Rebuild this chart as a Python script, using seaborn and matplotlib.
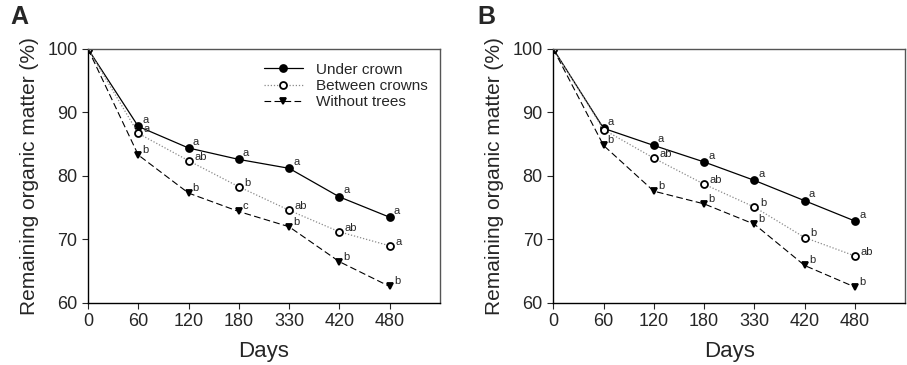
import pandas as pd
import seaborn as sns
import matplotlib.pyplot as plt
from matplotlib.lines import Line2D

# Datos
dias = ["0", "60", "120", "180", "330", "420", "480"]
series = ["Under crown", "Between crowns", "Without trees"]

a_under = [100, 87.8, 84.4, 82.6, 81.2, 76.7, 73.5]
a_between = [100, 86.7, 82.4, 78.3, 74.6, 71.2, 69.0]
a_without = [100, 83.3, 77.3, 74.4, 72.0, 66.5, 62.6]

b_under = [100, 87.5, 84.8, 82.2, 79.3, 76.1, 72.9]
b_between = [100, 87.3, 82.8, 78.7, 75.1, 70.3, 67.4]
b_without = [100, 84.8, 77.6, 75.6, 72.4, 65.9, 62.5]

a_letras_under = ["", "a", "a", "a", "a", "a", "a"]
a_letras_between = ["", "a", "ab", "b", "ab", "ab", "a"]
a_letras_without = ["", "b", "b", "c", "b", "b", "b"]

b_letras_under = ["", "a", "a", "a", "a", "a", "a"]
b_letras_between = ["", "", "ab", "ab", "b", "b", "ab"]
b_letras_without = ["", "b", "b", "b", "b", "b", "b"]

estilos = {
    "Under crown": dict(color="black", ls="-", marker="o", mfc="black", lw=0.9),
    "Between crowns": dict(color="#8a8a8a", ls=(0, (1, 1.5)), marker="o", mfc="white", lw=0.9),
    "Without trees": dict(color="black", ls=(0, (6, 3)), marker="v", mfc="black", lw=0.8),
}
# desplazamiento de las letras (puntos) y alineación vertical
offsets = {
    "Under crown": ((3, 1), "bottom"),
    "Between crowns": ((4, 3), "center"),
    "Without trees": ((3, 0), "bottom"),
}

sns.set_style("ticks")
plt.rcParams["font.family"] = ["Liberation Sans", "DejaVu Sans"]

fig = plt.figure(figsize=(9.07, 3.65), dpi=100)
ax_a = fig.add_axes([0.097, 0.170, 0.388, 0.696])
ax_b = fig.add_axes([0.610, 0.170, 0.388, 0.696])

paneles = [
    (ax_a, "A", 0.011, [a_under, a_between, a_without], [a_letras_under, a_letras_between, a_letras_without]),
    (ax_b, "B", 0.526, [b_under, b_between, b_without], [b_letras_under, b_letras_between, b_letras_without]),
]

for ax, etiqueta, xlet, valores, letras in paneles:
    pos = list(range(len(dias)))
    for nombre, vals, lets in zip(series, valores, letras):
        st = estilos[nombre]
        df = pd.DataFrame({"pos": pos, "valor": vals})
        sns.lineplot(data=df, x="pos", y="valor", ax=ax, color=st["color"],
                     linestyle=st["ls"], lw=st["lw"], marker=st["marker"],
                     markersize=5, markerfacecolor=st["mfc"],
                     markeredgecolor="black", markeredgewidth=1.3)
        off, va = offsets[nombre]
        for x, y, t in zip(pos, vals, lets):
            if t:
                ax.annotate(t, (x, y), xytext=off, textcoords="offset points",
                            fontsize=8, ha="left", va=va)
    ax.set_xlim(0, 7)
    ax.set_ylim(60, 100)
    ax.set_xticks(pos)
    ax.set_xticklabels(dias)
    ax.set_yticks([60, 70, 80, 90, 100])
    ax.tick_params(labelsize=13, length=4, width=0.8, direction="out")
    ax.set_xlabel("Days", fontsize=16, labelpad=8)
    ax.set_ylabel("Remaining organic matter (%)", fontsize=15, labelpad=6)
    for lado in ["left", "bottom"]:
        ax.spines[lado].set_color("black")
        ax.spines[lado].set_linewidth(1.0)
    for lado in ["top", "right"]:
        ax.spines[lado].set_visible(True)
        ax.spines[lado].set_color("#555555")
        ax.spines[lado].set_linewidth(1.0)
    fig.text(xlet, 0.985, etiqueta, fontsize=18, fontweight="bold",
             ha="left", va="top")

handles = []
for nombre in series:
    st = estilos[nombre]
    handles.append(Line2D([], [], color=st["color"], linestyle=st["ls"], lw=st["lw"],
                          marker=st["marker"], markersize=5, markerfacecolor=st["mfc"],
                          markeredgecolor="black", markeredgewidth=1.3))
ax_a.legend(handles, series, loc="upper left", bbox_to_anchor=(0.46, 1.0),
            frameon=False, fontsize=11, handlelength=2.6, labelspacing=0.15,
            handletextpad=0.8)

fig.savefig("out.png", dpi=100)
